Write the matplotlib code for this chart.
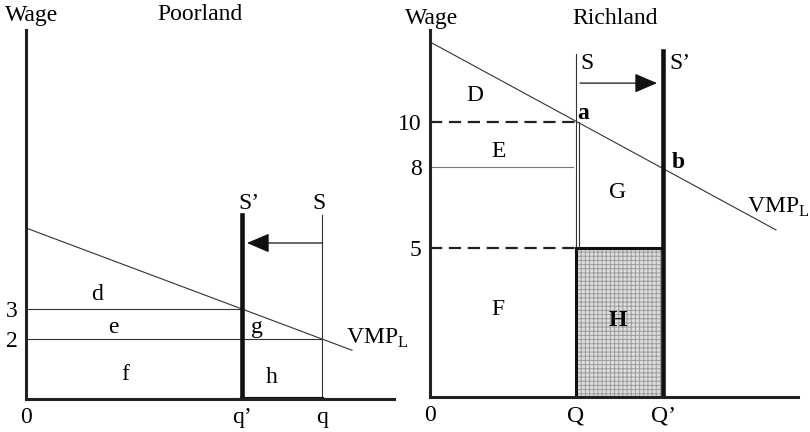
import numpy as np
import matplotlib
matplotlib.use("Agg")
import matplotlib.pyplot as plt
from matplotlib.patches import Rectangle

plt.rcParams['font.family'] = ['Liberation Serif', 'DejaVu Serif']
plt.rcParams['mathtext.fontset'] = 'custom'
plt.rcParams['mathtext.rm'] = 'Liberation Serif'
plt.rcParams['hatch.linewidth'] = 0.7

# ---- Poorland (left)
p_q_prime, p_q = 5.4, 7.4
p_wages = [3, 2]
p_vmp_x = [0, 8.15]
p_vmp_w = [5.7, 1.625]
p_supply_top = 6.13
p_arrow = (7.4, 5.525, 5.2)          # tail x, tip x, wage
p_xticks = [0, p_q_prime, p_q]
p_xlabels = ['0', 'q\u2019', 'q']
p_area_labels = {'d': (1.78, 3.47), 'e': (2.18, 2.37), 'g': (5.77, 2.37),
                 'f': (2.48, 0.8), 'h': (6.15, 0.73)}

# ---- Richland (right)
r_Q, r_Q_prime = 3.65, 5.825
r_wages = [10, 8, 5]
r_vmp_x = [0, 8.65]
r_vmp_w = [13.56, 5.67]
r_s_top, r_s2_top = 13.02, 13.16
r_line8_end = 3.58
r_arrow = (3.75, 5.675, 11.73)
r_xticks = [0, r_Q, r_Q_prime]
r_xlabels = ['0', 'Q', 'Q\u2019']
r_area_labels = {'D': (1.125, 11.2), 'E': (1.72, 8.71), 'G': (4.7, 7.04),
                 'F': (1.7, 2.92)}

# the original wage axis is drawn a little out of proportion
W_KNOTS = [0, 5, 8, 10, 15]
H_KNOTS = [0, 149, 230, 275, 387.5]

fig = plt.figure(figsize=(8.1, 4.32), dpi=100)
W, H = 810, 432
axL = fig.add_axes([26 / W, 33 / H, 368 / W, 369 / H])
axR = fig.add_axes([430 / W, 35 / H, 368 / W, 367 / H])

axR.set_yscale('function', functions=(lambda w: np.interp(w, W_KNOTS, H_KNOTS),
                                       lambda h: np.interp(h, H_KNOTS, W_KNOTS)))

fs = 17
for ax in (axL, axR):
    ax.set_xlim(0, 9.2)
    for s in ('top', 'right'):
        ax.spines[s].set_visible(False)
    for s in ('left', 'bottom'):
        ax.spines[s].set_linewidth(2.2)
        ax.spines[s].set_color('#222222')
        ax.spines[s].set_capstyle('projecting')
    ax.tick_params(length=0, labelsize=fs, pad=6)

axL.set_ylim(0, 12.3)
axR.set_ylim(0, 14.09)

thin = dict(color='#333333', lw=0.8)

# ---- left panel
axL.plot(p_vmp_x, p_vmp_w, **thin)
axL.plot([0, p_q_prime], [p_wages[0]] * 2, **thin)
axL.plot([0, p_q], [p_wages[1]] * 2, **thin)
axL.plot([p_q, p_q], [0, p_supply_top], **thin)
axL.plot([p_q_prime, p_q_prime], [0, p_supply_top], color='#111111', lw=3.3)
axL.plot([p_q_prime, p_q], [0, 0], color='#111111', lw=3)
axL.annotate('', xy=(p_arrow[1], p_arrow[2]), xytext=(p_arrow[0], p_arrow[2]),
             arrowprops=dict(arrowstyle='-|>,head_length=1.4,head_width=0.6',
                             mutation_scale=10, lw=0.9, color='#111111',
                             shrinkA=0, shrinkB=0))
axL.set_xticks(p_xticks, p_xlabels)
axL.set_yticks(p_wages, [str(w) for w in p_wages])
for k, (x, y) in p_area_labels.items():
    axL.text(x, y, k, fontsize=fs, ha='center', va='center')
axL.text(5.58, 6.53, 'S\u2019', fontsize=fs, ha='center', va='center')
axL.text(7.33, 6.53, 'S', fontsize=fs, ha='center', va='center')
axL.text(8.0, 2.03, r'VMP$_{\mathrm{L}}$', fontsize=fs, ha='left', va='center',
         clip_on=False)
axL.text(0.15, 12.8, 'Wage', fontsize=fs, ha='center', va='center', clip_on=False)
axL.text(4.35, 12.8, 'Poorland', fontsize=fs, ha='center', va='center', clip_on=False)

# ---- right panel
axR.add_patch(Rectangle((r_Q, 0), r_Q_prime - r_Q, r_wages[2], facecolor='#dedede',
                        edgecolor='#9c9c9c', hatch='++++', lw=0, zorder=1))
axR.plot(r_vmp_x, r_vmp_w, **thin)
axR.plot([0, r_Q], [r_wages[0]] * 2, color='#222222', lw=1.6, ls=(0, (5.5, 3)))
axR.plot([0, r_line8_end], [r_wages[1]] * 2, color='#777777', lw=0.8)
axR.plot([0, r_Q], [r_wages[2]] * 2, color='#222222', lw=1.6, ls=(0, (5.5, 3)))
axR.plot([r_Q, r_Q_prime], [r_wages[2]] * 2, color='#111111', lw=2.2)
axR.plot([r_Q, r_Q], [0, r_s_top], **thin)
axR.plot([r_Q + 0.08, r_Q + 0.08], [r_wages[2], r_wages[0]], **thin)
axR.plot([r_Q, r_Q], [0, r_wages[2]], color='#111111', lw=2.2)
axR.plot([r_Q_prime, r_Q_prime], [0, r_s2_top], color='#111111', lw=3.3)
axR.annotate('', xy=(r_arrow[1], r_arrow[2]), xytext=(r_arrow[0], r_arrow[2]),
             arrowprops=dict(arrowstyle='-|>,head_length=1.4,head_width=0.6',
                             mutation_scale=10, lw=0.9, color='#111111',
                             shrinkA=0, shrinkB=0))
axR.set_xticks(r_xticks, r_xlabels)
axR.set_yticks(r_wages, [str(w) for w in r_wages])
axR.yaxis.set_minor_locator(matplotlib.ticker.NullLocator())
for k, (x, y) in r_area_labels.items():
    axR.text(x, y, k, fontsize=fs, ha='center', va='center')
axR.text(4.7, 2.58, 'H', fontsize=fs, ha='center', va='center', fontweight='bold')
axR.text(3.83, 10.4, 'a', fontsize=fs, ha='center', va='center', fontweight='bold')
axR.text(6.2, 8.18, 'b', fontsize=fs, ha='center', va='center', fontweight='bold')
axR.text(3.92, 12.62, 'S', fontsize=fs, ha='center', va='center')
axR.text(6.25, 12.62, 'S\u2019', fontsize=fs, ha='center', va='center')
axR.text(7.92, 6.52, r'VMP$_{\mathrm{L}}$', fontsize=fs, ha='left', va='center',
         clip_on=False)
axR.text(0.05, 14.6, 'Wage', fontsize=fs, ha='center', va='center', clip_on=False)
axR.text(4.63, 14.6, 'Richland', fontsize=fs, ha='center', va='center', clip_on=False)

fig.savefig('out.png', dpi=100)
